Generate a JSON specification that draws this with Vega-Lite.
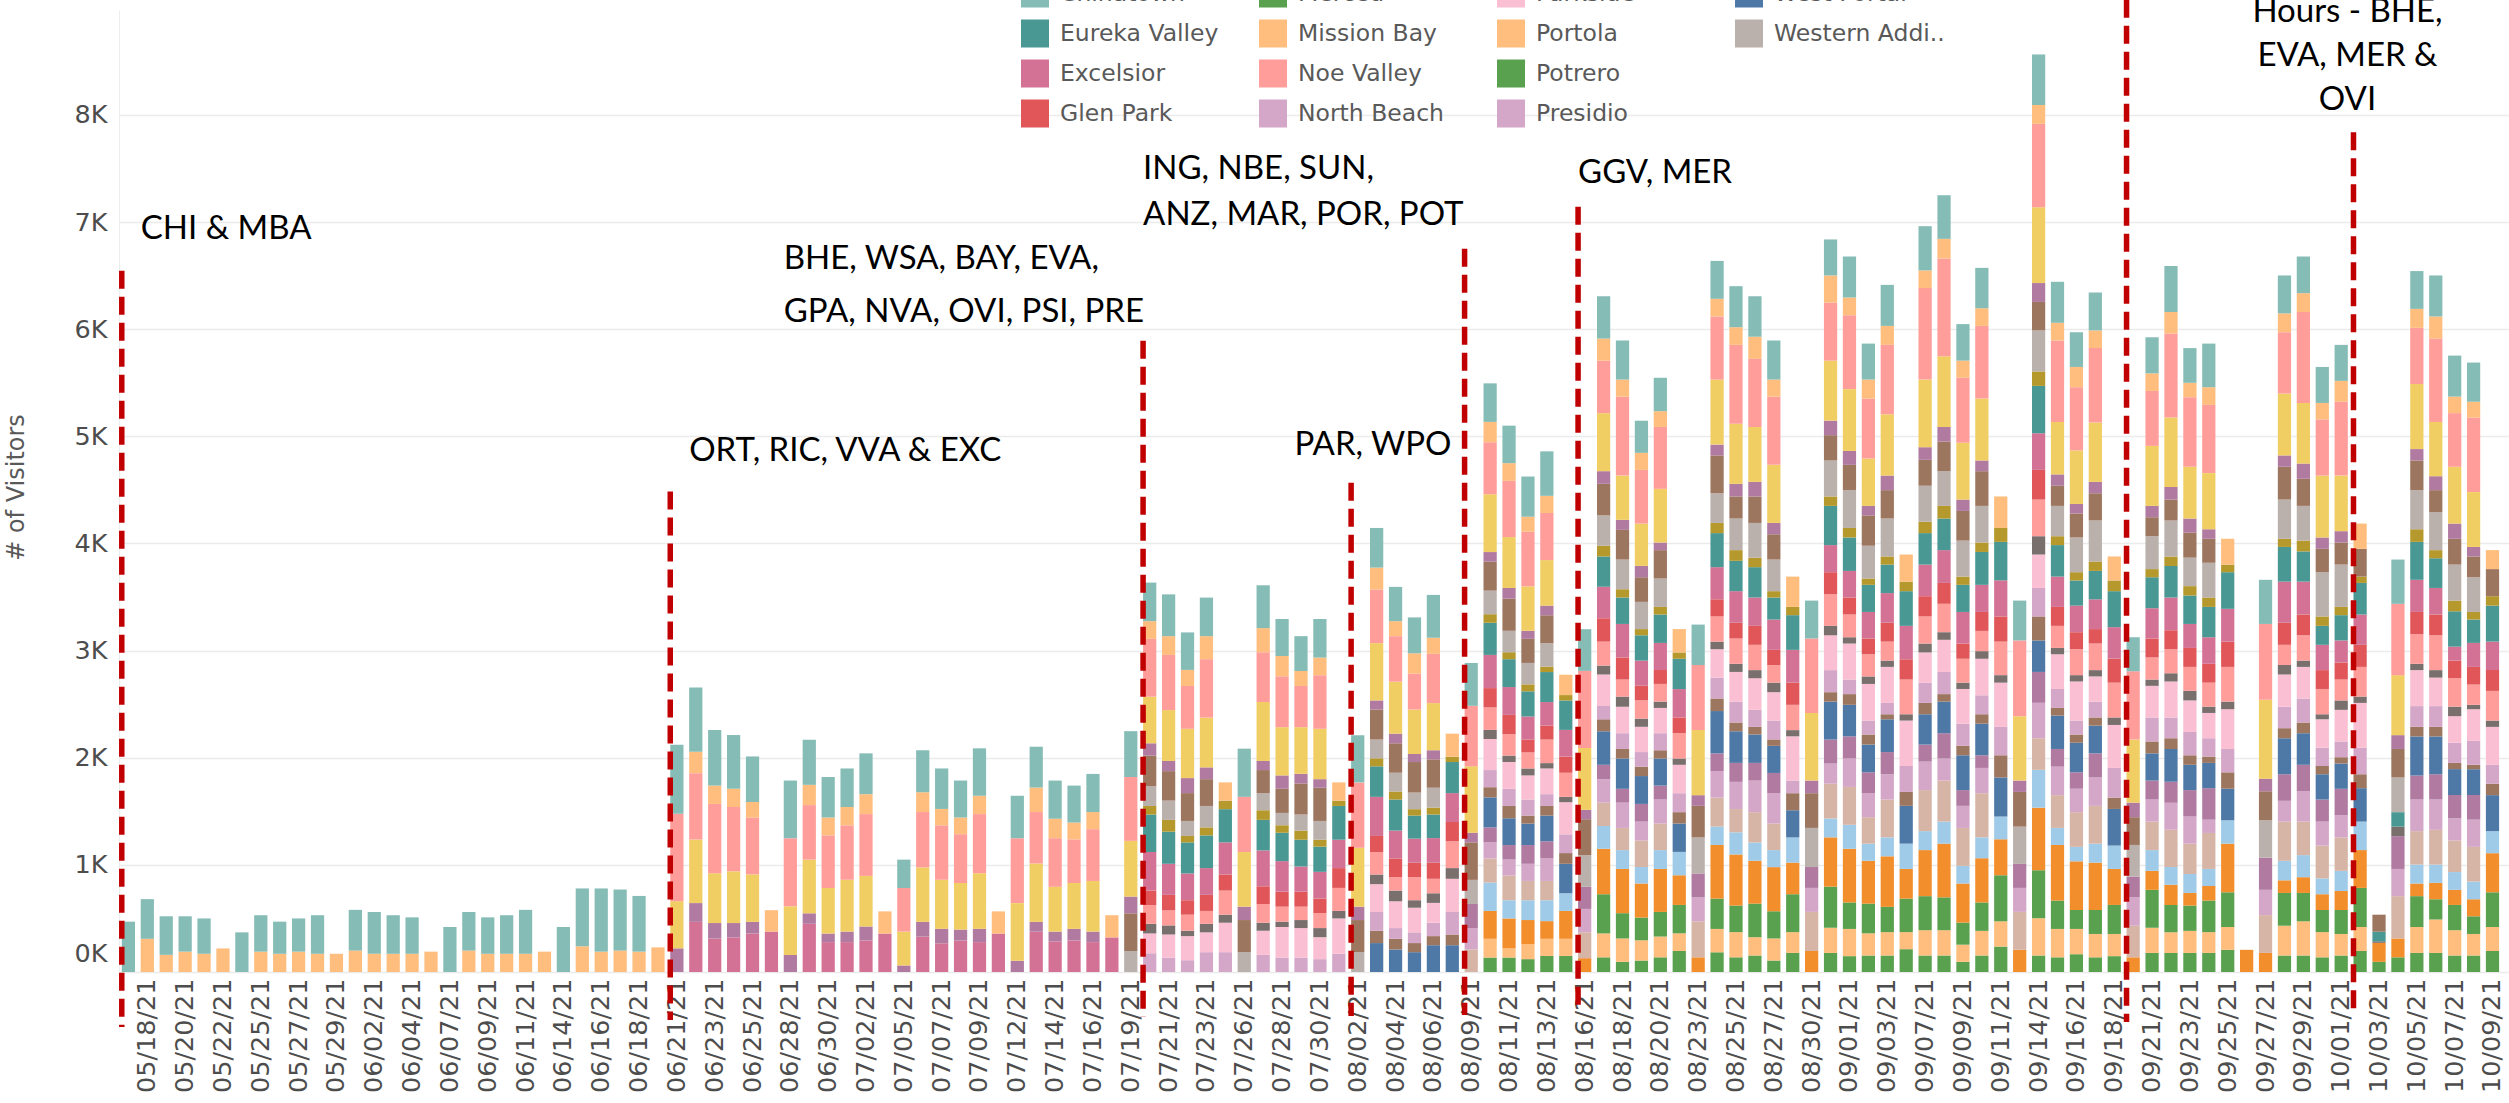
{
  "$schema": "https://vega.github.io/schema/vega-lite/v6.json",
  "autosize": {"type": "none"},
  "padding": {"left": 119, "top": 10, "right": 0, "bottom": 131},
  "width": 2390,
  "height": 962,
  "background": "#ffffff",
  "config": {"view": {"stroke": null}, "font": "DejaVu Sans"},
  "datasets": {
    "branches": [
      {"code": "CHI", "name": "Chinatown"}, {"code": "MBA", "name": "Mission Bay"}, {"code": "VVA", "name": "Visitacion Valley"},
      {"code": "RIC", "name": "Richmond"}, {"code": "ORT", "name": "Ortega"}, {"code": "BHE", "name": "Bernal Heights"},
      {"code": "WSA", "name": "Western Addition"}, {"code": "BAY", "name": "Bayview"}, {"code": "EVA", "name": "Eureka Valley"},
      {"code": "EXC", "name": "Excelsior"}, {"code": "GPA", "name": "Glen Park"}, {"code": "NVA", "name": "Noe Valley"},
      {"code": "OVI", "name": "Ocean View"}, {"code": "PKS", "name": "Parkside"}, {"code": "PRE", "name": "Presidio"},
      {"code": "PAR", "name": "Park"}, {"code": "WPO", "name": "West Portal"}, {"code": "MAR", "name": "Marina"},
      {"code": "NBE", "name": "North Beach"}, {"code": "SUN", "name": "Sunset"}, {"code": "ING", "name": "Ingleside"},
      {"code": "ANZ", "name": "Anza"}, {"code": "MER", "name": "Merced"}, {"code": "POR", "name": "Portola"},
      {"code": "POT", "name": "Potrero"}
    ],
    "visits": [
      {"d":"05/17/21","CHI":470},
      {"d":"05/18/21","CHI":370,"MBA":310},
      {"d":"05/19/21","CHI":360,"MBA":160},
      {"d":"05/20/21","CHI":330,"MBA":190},
      {"d":"05/21/21","CHI":330,"MBA":170},
      {"d":"05/22/21","MBA":220},
      {"d":"05/24/21","CHI":370},
      {"d":"05/25/21","CHI":340,"MBA":190},
      {"d":"05/26/21","CHI":300,"MBA":170},
      {"d":"05/27/21","CHI":310,"MBA":190},
      {"d":"05/28/21","CHI":360,"MBA":170},
      {"d":"05/29/21","MBA":170},
      {"d":"06/01/21","CHI":380,"MBA":200},
      {"d":"06/02/21","CHI":390,"MBA":170},
      {"d":"06/03/21","CHI":360,"MBA":170},
      {"d":"06/04/21","CHI":340,"MBA":170},
      {"d":"06/05/21","MBA":190},
      {"d":"06/07/21","CHI":420},
      {"d":"06/08/21","CHI":360,"MBA":200},
      {"d":"06/09/21","CHI":340,"MBA":170},
      {"d":"06/10/21","CHI":360,"MBA":170},
      {"d":"06/11/21","CHI":410,"MBA":170},
      {"d":"06/12/21","MBA":190},
      {"d":"06/14/21","CHI":420},
      {"d":"06/15/21","CHI":540,"MBA":240},
      {"d":"06/16/21","CHI":590,"MBA":190},
      {"d":"06/17/21","CHI":570,"MBA":200},
      {"d":"06/18/21","CHI":520,"MBA":190},
      {"d":"06/19/21","MBA":230},
      {"d":"06/21/21","CHI":643,"VVA":817,"RIC":440,"ORT":221},
      {"d":"06/22/21","CHI":599,"MBA":200,"VVA":618,"RIC":595,"ORT":175,"EXC":468},
      {"d":"06/23/21","CHI":519,"MBA":171,"VVA":647,"RIC":465,"ORT":145,"EXC":312},
      {"d":"06/24/21","CHI":501,"MBA":171,"VVA":600,"RIC":483,"ORT":134,"EXC":323},
      {"d":"06/25/21","CHI":425,"MBA":145,"VVA":531,"RIC":443,"ORT":109,"EXC":359},
      {"d":"06/26/21","MBA":200,"EXC":377},
      {"d":"06/28/21","CHI":538,"VVA":636,"RIC":454,"ORT":159},
      {"d":"06/29/21","CHI":421,"MBA":189,"VVA":509,"RIC":501,"ORT":98,"EXC":450},
      {"d":"06/30/21","CHI":378,"MBA":167,"VVA":491,"RIC":425,"ORT":80,"EXC":279},
      {"d":"07/01/21","CHI":360,"MBA":171,"VVA":508,"RIC":484,"ORT":98,"EXC":279},
      {"d":"07/02/21","CHI":381,"MBA":186,"VVA":577,"RIC":472,"ORT":131,"EXC":294},
      {"d":"07/03/21","MBA":207,"EXC":359},
      {"d":"07/05/21","CHI":265,"VVA":407,"RIC":316,"ORT":61},
      {"d":"07/06/21","CHI":392,"MBA":185,"VVA":516,"RIC":509,"ORT":138,"EXC":330},
      {"d":"07/07/21","CHI":378,"MBA":153,"VVA":508,"RIC":458,"ORT":135,"EXC":268},
      {"d":"07/08/21","CHI":345,"MBA":156,"VVA":455,"RIC":435,"ORT":102,"EXC":294},
      {"d":"07/09/21","CHI":443,"MBA":171,"VVA":552,"RIC":519,"ORT":124,"EXC":279},
      {"d":"07/10/21","MBA":207,"EXC":359},
      {"d":"07/12/21","CHI":396,"VVA":606,"RIC":538,"ORT":105},
      {"d":"07/13/21","CHI":381,"MBA":229,"VVA":480,"RIC":545,"ORT":91,"EXC":377},
      {"d":"07/14/21","CHI":356,"MBA":182,"VVA":454,"RIC":418,"ORT":91,"EXC":286},
      {"d":"07/15/21","CHI":345,"MBA":157,"VVA":407,"RIC":428,"ORT":109,"EXC":294},
      {"d":"07/16/21","CHI":356,"MBA":160,"VVA":483,"RIC":473,"ORT":98,"EXC":279},
      {"d":"07/17/21","MBA":207,"EXC":323},
      {"d":"07/19/21","CHI":428,"VVA":596,"RIC":520,"ORT":156,"BHE":352,"WSA":196},
      {"d":"07/20/21","CHI":360,"MBA":165,"VVA":540,"RIC":435,"ORT":115,"BHE":285,"WSA":185,"BAY":80,"EVA":350,"EXC":360,"GPA":135,"NVA":175,"OVI":90,"PKS":185,"PRE":175},
      {"d":"07/21/21","CHI":390,"MBA":175,"VVA":515,"RIC":475,"ORT":95,"BHE":275,"WSA":180,"BAY":110,"EVA":300,"EXC":290,"GPA":145,"NVA":140,"OVI":85,"PKS":215,"PRE":135},
      {"d":"07/22/21","CHI":350,"MBA":150,"VVA":400,"RIC":460,"ORT":140,"BHE":260,"WSA":140,"BAY":60,"EVA":290,"EXC":250,"GPA":135,"NVA":150,"OVI":50,"PKS":225,"PRE":110},
      {"d":"07/23/21","CHI":360,"MBA":215,"VVA":545,"RIC":465,"ORT":110,"BHE":250,"WSA":200,"BAY":75,"EVA":305,"EXC":250,"GPA":150,"NVA":120,"OVI":80,"PKS":185,"PRE":185},
      {"d":"07/24/21","MBA":170,"BAY":80,"EVA":310,"EXC":300,"GPA":150,"NVA":225,"OVI":75,"PKS":275,"PRE":185},
      {"d":"07/26/21","CHI":450,"VVA":515,"RIC":510,"ORT":125,"BHE":300,"WSA":185},
      {"d":"07/27/21","CHI":400,"MBA":225,"VVA":465,"RIC":550,"ORT":85,"BHE":215,"WSA":160,"BAY":90,"EVA":285,"EXC":335,"GPA":165,"NVA":175,"OVI":75,"PKS":225,"PRE":160},
      {"d":"07/28/21","CHI":345,"MBA":190,"VVA":475,"RIC":450,"ORT":125,"BHE":225,"WSA":115,"BAY":70,"EVA":265,"EXC":285,"GPA":140,"NVA":140,"OVI":50,"PKS":285,"PRE":135},
      {"d":"07/29/21","CHI":325,"MBA":140,"VVA":385,"RIC":435,"ORT":90,"BHE":290,"WSA":150,"BAY":85,"EVA":250,"EXC":235,"GPA":140,"NVA":125,"OVI":75,"PKS":275,"PRE":135},
      {"d":"07/30/21","CHI":360,"MBA":165,"VVA":500,"RIC":470,"ORT":80,"BHE":310,"WSA":175,"BAY":65,"EVA":235,"EXC":250,"GPA":135,"NVA":140,"OVI":85,"PKS":205,"PRE":120},
      {"d":"07/31/21","MBA":170,"BAY":50,"EVA":315,"EXC":265,"GPA":185,"NVA":215,"OVI":70,"PKS":330,"PRE":170},
      {"d":"08/02/21","CHI":440,"VVA":610,"RIC":550,"ORT":125,"BHE":300,"WSA":185},
      {"d":"08/03/21","CHI":370,"MBA":205,"VVA":500,"RIC":535,"ORT":85,"BHE":280,"WSA":175,"BAY":75,"EVA":285,"EXC":365,"GPA":150,"NVA":210,"OVI":90,"PKS":260,"PRE":175,"PAR":115,"WPO":270},
      {"d":"08/04/21","CHI":320,"MBA":140,"VVA":425,"RIC":485,"ORT":90,"BHE":275,"WSA":175,"BAY":75,"EVA":290,"EXC":260,"GPA":175,"NVA":125,"OVI":100,"PKS":250,"PRE":100,"PAR":100,"WPO":210},
      {"d":"08/05/21","CHI":335,"MBA":190,"VVA":335,"RIC":415,"ORT":75,"BHE":285,"WSA":155,"BAY":60,"EVA":215,"EXC":225,"GPA":135,"NVA":215,"OVI":70,"PKS":230,"PRE":100,"PAR":85,"WPO":185},
      {"d":"08/06/21","CHI":400,"MBA":150,"VVA":460,"RIC":440,"ORT":85,"BHE":265,"WSA":185,"BAY":65,"EVA":220,"EXC":230,"GPA":150,"NVA":135,"OVI":90,"PKS":185,"PRE":125,"PAR":85,"WPO":250},
      {"d":"08/07/21","MBA":215,"BAY":50,"EVA":290,"EXC":270,"GPA":180,"NVA":250,"OVI":100,"PKS":310,"PRE":210,"PAR":100,"WPO":250},
      {"d":"08/09/21","CHI":400,"VVA":565,"RIC":620,"ORT":90,"BHE":350,"WSA":225,"MAR":225,"NBE":200,"SUN":210},
      {"d":"08/10/21","CHI":360,"MBA":190,"VVA":485,"RIC":540,"ORT":90,"BHE":270,"WSA":220,"BAY":80,"EVA":300,"EXC":310,"GPA":180,"NVA":210,"OVI":85,"PKS":290,"PRE":160,"PAR":95,"WPO":280,"MAR":140,"NBE":150,"SUN":225,"ING":265,"ANZ":260,"POR":175,"POT":135},
      {"d":"08/11/21","CHI":350,"MBA":165,"VVA":525,"RIC":475,"ORT":100,"BHE":300,"WSA":200,"BAY":65,"EVA":260,"EXC":260,"GPA":180,"NVA":200,"OVI":60,"PKS":250,"PRE":160,"PAR":115,"WPO":250,"MAR":135,"NBE":150,"SUN":230,"ING":170,"ANZ":280,"POR":85,"POT":135},
      {"d":"08/12/21","CHI":375,"MBA":140,"VVA":510,"RIC":415,"ORT":75,"BHE":225,"WSA":200,"BAY":65,"EVA":235,"EXC":215,"GPA":120,"NVA":150,"OVI":65,"PKS":225,"PRE":150,"PAR":75,"WPO":200,"MAR":175,"NBE":160,"SUN":180,"ING":185,"ANZ":225,"POR":140,"POT":120},
      {"d":"08/13/21","CHI":415,"MBA":160,"VVA":440,"RIC":425,"ORT":90,"BHE":260,"WSA":220,"BAY":50,"EVA":280,"EXC":220,"GPA":130,"NVA":220,"OVI":50,"PKS":240,"PRE":110,"PAR":90,"WPO":240,"MAR":160,"NBE":210,"SUN":180,"ING":195,"ANZ":165,"POR":160,"POT":150},
      {"d":"08/14/21","MBA":190,"BAY":50,"EVA":275,"EXC":250,"GPA":150,"NVA":225,"OVI":50,"PKS":300,"PRE":175,"PAR":100,"WPO":275,"ING":165,"ANZ":260,"POR":160,"POT":150},
      {"d":"08/16/21","CHI":389,"VVA":719,"RIC":578,"ORT":88,"BHE":336,"WSA":295,"MAR":206,"NBE":218,"SUN":242,"ANZ":129},
      {"d":"08/17/21","CHI":395,"MBA":206,"VVA":490,"RIC":542,"ORT":118,"BHE":295,"WSA":283,"BAY":100,"EVA":283,"EXC":294,"GPA":218,"NVA":224,"OVI":83,"PKS":294,"PRE":124,"PAR":112,"WPO":313,"MAR":135,"NBE":218,"SUN":218,"ING":213,"ANZ":424,"MER":366,"POR":223,"POT":137},
      {"d":"08/18/21","CHI":365,"MBA":160,"VVA":736,"RIC":413,"ORT":94,"BHE":277,"WSA":277,"BAY":77,"EVA":247,"EXC":313,"GPA":206,"NVA":159,"OVI":95,"PKS":247,"PRE":147,"PAR":89,"WPO":283,"MAR":129,"NBE":236,"SUN":207,"ING":176,"ANZ":413,"MER":236,"POR":218,"POT":95},
      {"d":"08/19/21","CHI":300,"MBA":159,"VVA":501,"RIC":395,"ORT":106,"BHE":230,"WSA":254,"BAY":58,"EVA":236,"EXC":235,"GPA":136,"NVA":171,"OVI":76,"PKS":236,"PRE":136,"PAR":88,"WPO":260,"MAR":165,"NBE":177,"SUN":247,"ING":154,"ANZ":318,"MER":212,"POR":189,"POT":107},
      {"d":"08/20/21","CHI":312,"MBA":147,"VVA":578,"RIC":501,"ORT":71,"BHE":265,"WSA":265,"BAY":71,"EVA":265,"EXC":253,"GPA":130,"NVA":165,"OVI":59,"PKS":236,"PRE":159,"PAR":77,"WPO":253,"MAR":130,"NBE":224,"SUN":248,"ING":176,"ANZ":401,"MER":230,"POR":194,"POT":137},
      {"d":"08/21/21","MBA":218,"BAY":59,"EVA":283,"EXC":265,"GPA":147,"NVA":236,"OVI":59,"PKS":265,"PRE":177,"PAR":106,"WPO":265,"ING":218,"ANZ":277,"MER":265,"POR":165,"POT":196},
      {"d":"08/23/21","CHI":378,"VVA":607,"RIC":607,"ORT":100,"BHE":295,"WSA":336,"MAR":223,"NBE":224,"SUN":336,"ANZ":137},
      {"d":"08/24/21","CHI":354,"MBA":165,"VVA":589,"RIC":607,"ORT":101,"BHE":353,"WSA":277,"BAY":95,"EVA":318,"EXC":300,"GPA":160,"NVA":235,"OVI":71,"PKS":265,"PRE":195,"PAR":117,"WPO":395,"MAR":165,"NBE":248,"SUN":271,"ING":171,"ANZ":501,"MER":283,"POR":218,"POT":184},
      {"d":"08/25/21","CHI":383,"MBA":165,"VVA":737,"RIC":560,"ORT":118,"BHE":206,"WSA":295,"BAY":100,"EVA":283,"EXC":295,"GPA":147,"NVA":236,"OVI":76,"PKS":277,"PRE":195,"PAR":82,"WPO":295,"MAR":177,"NBE":254,"SUN":217,"ING":207,"ANZ":477,"MER":248,"POR":235,"POT":137},
      {"d":"08/26/21","CHI":378,"MBA":206,"VVA":636,"RIC":513,"ORT":136,"BHE":247,"WSA":324,"BAY":89,"EVA":283,"EXC":265,"GPA":177,"NVA":236,"OVI":76,"PKS":295,"PRE":159,"PAR":71,"WPO":265,"MAR":165,"NBE":295,"SUN":283,"ING":171,"ANZ":400,"MER":313,"POR":171,"POT":154},
      {"d":"08/27/21","CHI":365,"MBA":160,"VVA":636,"RIC":542,"ORT":106,"BHE":236,"WSA":295,"BAY":59,"EVA":206,"EXC":283,"GPA":142,"NVA":164,"OVI":89,"PKS":265,"PRE":176,"PAR":60,"WPO":253,"MAR":188,"NBE":284,"SUN":248,"ING":159,"ANZ":412,"MER":254,"POR":206,"POT":107},
      {"d":"08/28/21","MBA":283,"BAY":77,"EVA":324,"EXC":306,"GPA":207,"NVA":236,"OVI":58,"PKS":413,"PRE":118,"PAR":159,"WPO":254,"ING":235,"ANZ":295,"MER":354,"POR":194,"POT":178},
      {"d":"08/30/21","CHI":354,"VVA":695,"RIC":631,"ORT":118,"BHE":324,"WSA":365,"MAR":195,"NBE":224,"SUN":365,"ANZ":196},
      {"d":"08/31/21","CHI":336,"MBA":253,"VVA":542,"RIC":560,"ORT":136,"BHE":236,"WSA":336,"BAY":88,"EVA":366,"EXC":253,"GPA":206,"NVA":295,"OVI":88,"PKS":325,"PRE":206,"PAR":88,"WPO":354,"MAR":224,"NBE":188,"SUN":325,"ING":176,"ANZ":460,"MER":384,"POR":235,"POT":178},
      {"d":"09/01/21","CHI":383,"MBA":165,"VVA":690,"RIC":577,"ORT":130,"BHE":236,"WSA":353,"BAY":89,"EVA":312,"EXC":248,"GPA":159,"NVA":212,"OVI":59,"PKS":336,"PRE":136,"PAR":100,"WPO":294,"MAR":207,"NBE":265,"SUN":354,"ING":224,"ANZ":501,"MER":247,"POR":254,"POT":148},
      {"d":"09/02/21","CHI":336,"MBA":177,"VVA":560,"RIC":442,"ORT":89,"BHE":283,"WSA":306,"BAY":59,"EVA":253,"EXC":248,"GPA":147,"NVA":207,"OVI":70,"PKS":342,"PRE":130,"PAR":94,"WPO":259,"MAR":194,"NBE":225,"SUN":247,"ING":160,"ANZ":400,"MER":277,"POR":207,"POT":154},
      {"d":"09/03/21","CHI":383,"MBA":177,"VVA":648,"RIC":572,"ORT":136,"BHE":265,"WSA":354,"BAY":76,"EVA":266,"EXC":277,"GPA":176,"NVA":177,"OVI":59,"PKS":336,"PRE":106,"PAR":47,"WPO":306,"MAR":207,"NBE":236,"SUN":353,"ING":177,"ANZ":472,"MER":236,"POR":218,"POT":154},
      {"d":"09/04/21","MBA":253,"BAY":89,"EVA":324,"EXC":312,"GPA":189,"NVA":324,"OVI":59,"PKS":424,"PRE":242,"PAR":130,"WPO":353,"ING":236,"ANZ":277,"MER":313,"POR":159,"POT":213},
      {"d":"09/07/21","CHI":413,"MBA":165,"VVA":854,"RIC":631,"ORT":118,"BHE":242,"WSA":336,"BAY":106,"EVA":294,"EXC":295,"GPA":189,"NVA":253,"OVI":83,"PKS":282,"PRE":189,"PAR":106,"WPO":283,"MAR":159,"NBE":266,"SUN":383,"ING":177,"ANZ":430,"MER":318,"POR":236,"POT":154},
      {"d":"09/08/21","CHI":407,"MBA":183,"VVA":913,"RIC":660,"ORT":136,"BHE":277,"WSA":324,"BAY":118,"EVA":295,"EXC":306,"GPA":195,"NVA":265,"OVI":71,"PKS":300,"PRE":207,"PAR":70,"WPO":295,"MAR":236,"NBE":206,"SUN":383,"ING":206,"ANZ":501,"MER":307,"POR":236,"POT":154},
      {"d":"09/09/21","CHI":341,"MBA":160,"VVA":607,"RIC":530,"ORT":106,"BHE":277,"WSA":336,"BAY":77,"EVA":253,"EXC":295,"GPA":142,"NVA":223,"OVI":59,"PKS":324,"PRE":207,"PAR":88,"WPO":325,"MAR":147,"NBE":206,"SUN":354,"ING":165,"ANZ":365,"MER":206,"POR":160,"POT":95},
      {"d":"09/10/21","CHI":377,"MBA":165,"VVA":678,"RIC":578,"ORT":100,"BHE":324,"WSA":342,"BAY":88,"EVA":307,"EXC":253,"GPA":177,"NVA":189,"OVI":71,"PKS":341,"PRE":177,"PAR":88,"WPO":295,"MAR":118,"NBE":236,"SUN":412,"ING":195,"ANZ":413,"MER":265,"POR":230,"POT":154},
      {"d":"09/11/21","MBA":294,"BAY":130,"EVA":359,"EXC":337,"GPA":235,"NVA":313,"OVI":70,"PKS":413,"PRE":265,"PAR":207,"WPO":365,"ING":212,"ANZ":336,"MER":430,"POR":236,"POT":237},
      {"d":"09/13/21","CHI":372,"VVA":707,"RIC":601,"ORT":106,"BHE":324,"WSA":348,"MAR":224,"NBE":224,"SUN":354,"ANZ":207},
      {"d":"09/14/21","CHI":472,"MBA":176,"VVA":778,"RIC":708,"ORT":176,"BHE":266,"WSA":383,"BAY":135,"EVA":442,"EXC":342,"GPA":277,"NVA":342,"OVI":171,"PKS":312,"PRE":266,"PAR":224,"WPO":294,"MAR":288,"NBE":331,"SUN":295,"ING":353,"ANZ":584,"MER":448,"POR":348,"POT":154},
      {"d":"09/15/21","CHI":383,"MBA":165,"VVA":760,"RIC":490,"ORT":106,"BHE":188,"WSA":283,"BAY":83,"EVA":294,"EXC":283,"GPA":177,"NVA":206,"OVI":59,"PKS":324,"PRE":177,"PAR":71,"WPO":312,"MAR":165,"NBE":266,"SUN":306,"ING":159,"ANZ":519,"MER":265,"POR":265,"POT":137},
      {"d":"09/16/21","CHI":324,"MBA":189,"VVA":590,"RIC":500,"ORT":89,"BHE":224,"WSA":324,"BAY":77,"EVA":235,"EXC":248,"GPA":159,"NVA":242,"OVI":59,"PKS":365,"PRE":130,"PAR":77,"WPO":276,"MAR":153,"NBE":219,"SUN":324,"ING":135,"ANZ":454,"MER":177,"POR":236,"POT":166},
      {"d":"09/17/21","CHI":354,"MBA":165,"VVA":695,"RIC":554,"ORT":106,"BHE":254,"WSA":383,"BAY":88,"EVA":265,"EXC":278,"GPA":135,"NVA":248,"OVI":59,"PKS":235,"PRE":148,"PAR":76,"WPO":259,"MAR":225,"NBE":265,"SUN":353,"ING":177,"ANZ":442,"MER":224,"POR":218,"POT":137},
      {"d":"09/18/21","MBA":224,"BAY":100,"EVA":336,"EXC":294,"GPA":224,"NVA":325,"OVI":70,"PKS":401,"PRE":277,"PAR":106,"WPO":342,"ING":218,"ANZ":336,"MER":271,"POR":207,"POT":148},
      {"d":"09/20/21","CHI":318,"VVA":637,"RIC":589,"ORT":136,"BHE":259,"WSA":295,"MAR":194,"NBE":265,"SUN":295,"ANZ":137},
      {"d":"09/21/21","CHI":337,"MBA":164,"VVA":513,"RIC":560,"ORT":106,"BHE":177,"WSA":307,"BAY":76,"EVA":289,"EXC":283,"GPA":177,"NVA":206,"OVI":59,"PKS":295,"PRE":224,"PAR":111,"WPO":254,"MAR":177,"NBE":206,"SUN":266,"ING":194,"ANZ":177,"MER":354,"POR":235,"POT":178},
      {"d":"09/22/21","CHI":430,"MBA":200,"VVA":784,"RIC":648,"ORT":118,"BHE":195,"WSA":336,"BAY":88,"EVA":295,"EXC":306,"GPA":177,"NVA":224,"OVI":77,"PKS":336,"PRE":195,"PAR":99,"WPO":307,"MAR":194,"NBE":254,"SUN":348,"ING":165,"ANZ":188,"MER":254,"POR":194,"POT":178},
      {"d":"09/23/21","CHI":324,"MBA":135,"VVA":649,"RIC":483,"ORT":130,"BHE":235,"WSA":266,"BAY":88,"EVA":265,"EXC":224,"GPA":177,"NVA":224,"OVI":89,"PKS":294,"PRE":218,"PAR":89,"WPO":236,"MAR":247,"NBE":253,"SUN":283,"ING":177,"ANZ":118,"MER":236,"POR":206,"POT":178},
      {"d":"09/24/21","CHI":407,"MBA":165,"VVA":637,"RIC":524,"ORT":89,"BHE":224,"WSA":324,"BAY":88,"EVA":283,"EXC":248,"GPA":176,"NVA":224,"OVI":59,"PKS":236,"PRE":171,"PAR":59,"WPO":236,"MAR":294,"NBE":124,"SUN":336,"ING":159,"ANZ":136,"MER":295,"POR":194,"POT":178},
      {"d":"09/25/21","MBA":241,"BAY":71,"EVA":342,"EXC":306,"GPA":236,"NVA":324,"OVI":71,"PKS":371,"PRE":218,"PAR":153,"WPO":295,"ING":218,"ANZ":454,"MER":324,"POR":213,"POT":207},
      {"d":"09/26/21","ANZ":207},
      {"d":"09/27/21","CHI":412,"VVA":708,"RIC":736,"ORT":118,"BHE":271,"WSA":348,"MAR":301,"NBE":236,"SUN":353,"ANZ":178},
      {"d":"09/28/21","CHI":354,"MBA":176,"VVA":572,"RIC":578,"ORT":106,"BHE":306,"WSA":366,"BAY":76,"EVA":324,"EXC":384,"GPA":206,"NVA":188,"OVI":89,"PKS":300,"PRE":201,"PAR":94,"WPO":336,"MAR":248,"NBE":194,"SUN":366,"ING":182,"ANZ":118,"MER":306,"POR":278,"POT":154},
      {"d":"09/29/21","CHI":342,"MBA":177,"VVA":848,"RIC":566,"ORT":142,"BHE":253,"WSA":324,"BAY":101,"EVA":282,"EXC":307,"GPA":194,"NVA":236,"OVI":59,"PKS":295,"PRE":224,"PAR":100,"WPO":295,"MAR":248,"NBE":282,"SUN":313,"ING":206,"ANZ":147,"MER":265,"POR":319,"POT":154},
      {"d":"09/30/21","CHI":336,"MBA":154,"VVA":524,"RIC":578,"ORT":106,"BHE":218,"WSA":413,"BAY":88,"EVA":177,"EXC":236,"GPA":176,"NVA":236,"OVI":47,"PKS":265,"PRE":171,"PAR":77,"WPO":236,"MAR":206,"NBE":224,"SUN":306,"ING":148,"ANZ":147,"MER":207,"POR":235,"POT":137},
      {"d":"10/01/21","CHI":336,"MBA":195,"VVA":689,"RIC":519,"ORT":106,"BHE":206,"WSA":395,"BAY":77,"EVA":236,"EXC":206,"GPA":159,"NVA":195,"OVI":88,"PKS":295,"PRE":147,"PAR":59,"WPO":236,"MAR":247,"NBE":207,"SUN":312,"ING":188,"ANZ":177,"MER":224,"POR":201,"POT":154},
      {"d":"10/02/21","MBA":236,"BHE":259,"BAY":59,"EVA":295,"EXC":283,"GPA":206,"NVA":277,"OVI":59,"PKS":418,"PRE":248,"PAR":130,"WPO":312,"ING":266,"ANZ":353,"MER":365,"POR":224,"POT":196},
      {"d":"10/03/21","BHE":159,"EVA":89,"OVI":15,"ANZ":177,"MER":95},
      {"d":"10/04/21","CHI":413,"VVA":666,"RIC":560,"ORT":129,"BHE":266,"WSA":324,"EVA":135,"OVI":89,"MAR":306,"NBE":254,"SUN":395,"ANZ":176,"MER":137},
      {"d":"10/05/21","CHI":353,"MBA":177,"VVA":525,"RIC":607,"ORT":106,"BHE":277,"WSA":365,"BAY":118,"EVA":354,"EXC":300,"GPA":207,"NVA":277,"OVI":59,"PKS":336,"PRE":194,"PAR":89,"WPO":365,"MAR":224,"NBE":295,"SUN":312,"ING":177,"ANZ":118,"MER":288,"POR":242,"POT":178},
      {"d":"10/06/21","CHI":383,"MBA":206,"VVA":778,"RIC":507,"ORT":130,"BHE":206,"WSA":354,"BAY":76,"EVA":277,"EXC":248,"GPA":194,"NVA":325,"OVI":70,"PKS":266,"PRE":194,"PAR":89,"WPO":353,"MAR":236,"NBE":283,"SUN":324,"ING":171,"ANZ":153,"MER":189,"POR":312,"POT":178},
      {"d":"10/07/21","CHI":383,"MBA":154,"VVA":501,"RIC":530,"ORT":142,"BHE":241,"WSA":336,"BAY":100,"EVA":330,"EXC":130,"GPA":165,"NVA":265,"OVI":89,"PKS":247,"PRE":189,"PAR":58,"WPO":242,"MAR":218,"NBE":206,"SUN":295,"ING":166,"ANZ":141,"MER":236,"POR":236,"POT":154},
      {"d":"10/08/21","CHI":366,"MBA":147,"VVA":696,"RIC":512,"ORT":89,"BHE":194,"WSA":324,"BAY":71,"EVA":218,"EXC":224,"GPA":165,"NVA":189,"OVI":41,"PKS":295,"PRE":224,"PAR":41,"WPO":241,"MAR":230,"NBE":254,"SUN":324,"ING":165,"ANZ":159,"MER":165,"POR":201,"POT":154},
      {"d":"10/09/21","MBA":177,"BHE":253,"BAY":88,"EVA":336,"EXC":265,"GPA":195,"NVA":277,"OVI":59,"PKS":354,"PRE":176,"PAR":107,"WPO":336,"ING":206,"ANZ":365,"MER":324,"POR":224,"POT":196}
    ]
  },
  "layer": [
    {
      "data": {"name": "visits"},
      "transform": [
        {"fold": ["POT","POR","MER","ANZ","ING","SUN","NBE","MAR","WPO","PAR","PRE","PKS","OVI","NVA","GPA","EXC","EVA","BAY","WSA","BHE","ORT","RIC","VVA","MBA","CHI"], "as": ["code", "v"]},
        {"window": [{"op": "row_number", "as": "rk"}], "groupby": ["d"]},
        {"filter": "datum.v > 0"},
        {"lookup": "code", "from": {"data": {"name": "branches"}, "key": "code", "fields": ["name"]}}
      ],
      "mark": {"type": "bar"},
      "encoding": {
        "x": {
          "field": "d", "type": "nominal", "title": null,
          "scale": {"paddingInner": 0.3, "paddingOuter": 0.335, "align": 0.22},
          "axis": {
            "values": ["05/18/21","05/20/21","05/22/21","05/25/21","05/27/21","05/29/21","06/02/21","06/04/21","06/07/21","06/09/21","06/11/21","06/14/21","06/16/21","06/18/21","06/21/21","06/23/21","06/25/21","06/28/21","06/30/21","07/02/21","07/05/21","07/07/21","07/09/21","07/12/21","07/14/21","07/16/21","07/19/21","07/21/21","07/23/21","07/26/21","07/28/21","07/30/21","08/02/21","08/04/21","08/06/21","08/09/21","08/11/21","08/13/21","08/16/21","08/18/21","08/20/21","08/23/21","08/25/21","08/27/21","08/30/21","09/01/21","09/03/21","09/07/21","09/09/21","09/11/21","09/14/21","09/16/21","09/18/21","09/21/21","09/23/21","09/25/21","09/27/21","09/29/21","10/01/21","10/03/21","10/05/21","10/07/21","10/09/21"],
            "labelAngle": -90, "labelFont": "DejaVu Sans", "labelFontSize": 25.5, "labelColor": "#4d4d4d",
            "labelPadding": 6, "ticks": false, "domain": false, "grid": false, "labelOverlap": false
          }
        },
        "y": {
          "field": "v", "type": "quantitative", "stack": "zero", "title": "# of Visitors",
          "scale": {"domain": [0, 8980], "nice": false, "zero": true},
          "axis": {
            "values": [0, 1000, 2000, 3000, 4000, 5000, 6000, 7000, 8000],
            "labelExpr": "(datum.value / 1000) + 'K'",
            "labelFont": "DejaVu Sans", "labelFontSize": 25.5, "labelColor": "#4d4d4d", "labelPadding": 12,
            "labelFlush": 1, "labelFlushOffset": -6,
            "ticks": false, "domain": true, "domainColor": "#ededed", "domainWidth": 1,
            "grid": true, "gridColor": "#ebebeb", "gridWidth": 1.5,
            "titleFont": "DejaVu Sans", "titleFontSize": 24, "titleFontWeight": "normal", "titleColor": "#595959",
            "titleX": -103, "titleY": 477, "titleAngle": -90, "titleAlign": "center", "titleBaseline": "middle"
          }
        },
        "color": {
          "field": "name", "type": "nominal",
          "scale": {
            "domain": ["Anza","Bayview","Bernal Heights","Chinatown","Eureka Valley","Excelsior","Glen Park","Golden Gate Valley","Ingleside","Marina","Merced","Mission Bay","Noe Valley","North Beach","Ocean View","Ortega","Park","Parkside","Portola","Potrero","Presidio","Richmond","Sunset","Visitacion Valley","West Portal","Western Addition"," "],
            "range": ["#F28E2B","#B6992D","#9D7660","#86BCB6","#499894","#D37295","#E15759","#8CD17D","#A0CBE8","#B07AA1","#59A14F","#FFBE7D","#FF9D9A","#D4A6C8","#79706E","#B07AA1","#9D7660","#FABFD2","#FFBE7D","#59A14F","#D4A6C8","#F1CE63","#D7B5A6","#FF9D9A","#4E79A7","#BAB0AC","#FFFFFF"]
          },
          "legend": {
            "orient": "none", "legendX": 902, "legendY": -150.5, "padding": 0,
            "columns": 4, "gridAlign": "all", "columnPadding": 13, "rowPadding": 12,
            "symbolType": "square", "symbolSize": 784, "symbolStrokeWidth": 0,
            "labelFont": "DejaVu Sans", "labelFontSize": 23.5, "labelColor": "#595959",
            "labelLimit": 190, "labelOffset": 11, "title": null,
            "labelExpr": "datum.label == 'Western Addition' ? 'Western Addi..' : datum.label"
          }
        },
        "order": {"field": "rk", "type": "quantitative"}
      }
    },
    {
      "data": {"values": [
        {"d": "05/17/21", "y": 6545, "y2": -514},
        {"d": "06/21/21", "y": 4485, "y2": -448},
        {"d": "07/20/21", "y": 5892, "y2": -420},
        {"d": "08/02/21", "y": 4566, "y2": -411},
        {"d": "08/09/21", "y": 6751, "y2": -401},
        {"d": "08/16/21", "y": 7143, "y2": -355},
        {"d": "09/20/21", "y": 9076, "y2": -467},
        {"d": "10/02/21", "y": 7838, "y2": -355}
      ]},
      "mark": {"type": "rule", "color": "#c00000", "strokeWidth": 5.5, "strokeDash": [18, 8]},
      "encoding": {
        "x": {"field": "d", "type": "nominal", "bandPosition": 0, "title": null},
        "y": {"field": "y", "type": "quantitative", "title": "# of Visitors", "scale": {"domain": [0, 8980], "nice": false}},
        "y2": {"field": "y2"}
      }
    },
    {
      "data": {"values": [
        {"d": "05/18/21", "y": 6844, "t": "CHI & MBA"},
        {"d": "06/22/21", "y": 4771, "t": "ORT, RIC, VVA & EXC"},
        {"d": "06/28/21", "y": 6560, "t": "BHE, WSA, BAY, EVA,"},
        {"d": "06/28/21", "y": 6064, "t": "GPA, NVA, OVI, PSI, PRE"},
        {"d": "07/20/21", "y": 7400, "t": "ING, NBE, SUN,"},
        {"d": "07/20/21", "y": 6975, "t": "ANZ, MAR, POR, POT"},
        {"d": "07/29/21", "y": 4827, "t": "PAR, WPO"},
        {"d": "08/16/21", "y": 7367, "t": "GGV, MER"}
      ]},
      "mark": {"type": "text", "font": "Lato", "fontSize": 33, "align": "left", "baseline": "alphabetic", "color": "#000000"},
      "encoding": {
        "x": {"field": "d", "type": "nominal", "bandPosition": 0, "title": null},
        "y": {"field": "y", "type": "quantitative", "title": "# of Visitors", "scale": {"domain": [0, 8980], "nice": false}},
        "text": {"field": "t"}
      }
    },
    {
      "data": {"values": [
        {"d": "10/02/21", "y": 8870, "t": "Hours - BHE,"},
        {"d": "10/02/21", "y": 8459, "t": "EVA, MER &"},
        {"d": "10/02/21", "y": 8049, "t": "OVI"}
      ]},
      "mark": {"type": "text", "font": "Lato", "fontSize": 33, "align": "center", "baseline": "alphabetic", "dx": -6, "color": "#000000"},
      "encoding": {
        "x": {"field": "d", "type": "nominal", "bandPosition": 0, "title": null},
        "y": {"field": "y", "type": "quantitative", "title": "# of Visitors", "scale": {"domain": [0, 8980], "nice": false}},
        "text": {"field": "t"}
      }
    }
  ]
}
